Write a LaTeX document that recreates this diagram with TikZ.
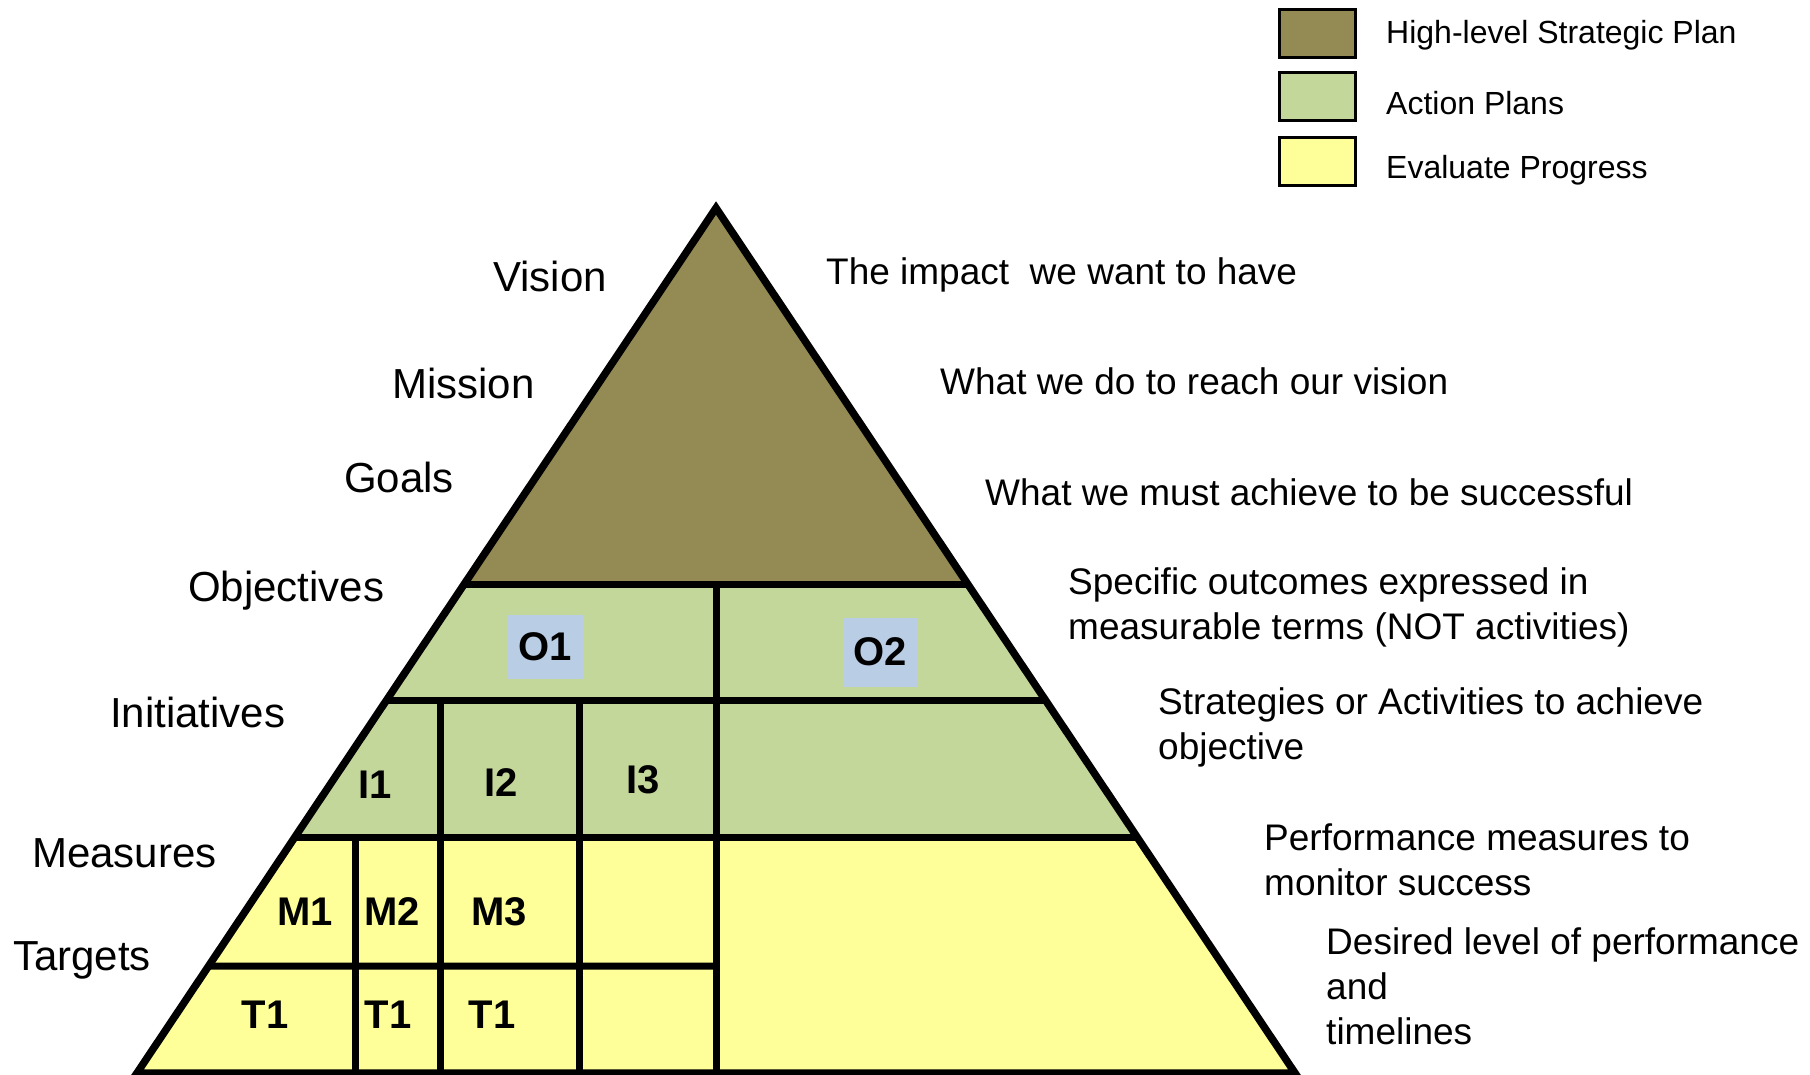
\documentclass[tikz,border=0pt]{standalone}
\usepackage{fontspec}
\setmainfont{Liberation Sans}
\usetikzlibrary{calc}
\definecolor{brownfill}{HTML}{948A54}
\definecolor{greenfill}{HTML}{C4D79B}
\definecolor{yellowfill}{HTML}{FFFF99}
\definecolor{bluefill}{HTML}{B9CDE5}
\begin{document}
\begin{tikzpicture}[x=1pt,y=-1pt,
  edge/.style={line width=7.5pt, line join=miter},
  gridline/.style={line width=7pt},
  lefttext/.style={font=\fontsize{42}{50}\selectfont, anchor=base west, inner sep=0},
  desc/.style={font=\fontsize{37}{45}\selectfont, anchor=base west, inner sep=0, align=left},
  cell/.style={font=\fontsize{40}{48}\selectfont\bfseries, inner sep=0},
  obox/.style={fill=bluefill, minimum width=75pt, inner sep=0, font=\fontsize{40}{48}\selectfont\bfseries},
  legbox/.style={draw, line width=3pt, minimum width=76pt, minimum height=48pt, inner sep=0},
  legtext/.style={font=\fontsize{32}{38}\selectfont, anchor=base west, inner sep=0}]

\useasboundingbox (0,0) rectangle (1810,1075);
\fill[white] (0,0) rectangle (1810,1075);

% pyramid corners
\coordinate (A) at (716,208);
\coordinate (BL) at (137,1073);
\coordinate (BR) at (1295,1073);
\coordinate (L1) at ($(A)!0.4347!(BL)$);
\coordinate (R1) at ($(A)!0.4347!(BR)$);
\coordinate (L2) at ($(A)!0.5688!(BL)$);
\coordinate (R2) at ($(A)!0.5688!(BR)$);
\coordinate (L3) at ($(A)!0.7272!(BL)$);
\coordinate (R3) at ($(A)!0.7272!(BR)$);
\coordinate (L4) at ($(A)!0.8763!(BL)$);
\coordinate (C1) at (716,584);
\coordinate (C4) at (716,966);
\coordinate (CB) at (716,1073);
\coordinate (V1t) at (440,700);
\coordinate (V1b) at (440,1073);
\coordinate (V2t) at (579,700);
\coordinate (V2b) at (579,1073);
\coordinate (V3t) at (355,837);
\coordinate (V3b) at (355,1073);

% fills
\fill[brownfill] (A) -- (R1) -- (L1) -- cycle;
\fill[greenfill] (L1) -- (R1) -- (R3) -- (L3) -- cycle;
\fill[yellowfill] (L3) -- (R3) -- (BR) -- (BL) -- cycle;

% blue boxes
\node[obox, minimum height=64pt] (O1) at (545,647) {O1};
\node[obox, minimum height=69pt] (O2) at (880,652) {O2};

% internal lines
\draw[gridline] (L1) -- (R1);
\draw[gridline] (L2) -- (R2);
\draw[gridline] (L3) -- (R3);
\draw[gridline] (L4) -- (C4);
\draw[gridline] (C1) -- (CB);
\draw[gridline] (V1t) -- (V1b);
\draw[gridline] (V2t) -- (V2b);
\draw[gridline] (V3t) -- (V3b);

% outline
\draw[edge] (A) -- (BR) -- (BL) -- cycle;

% cell labels
\node[cell] (I1) at (375,785) {I1};
\node[cell] (I2) at (501,783) {I2};
\node[cell] (I3) at (643,780) {I3};
\node[cell] (M1) at (305,912) {M1};
\node[cell] (M2) at (392,912) {M2};
\node[cell] (M3) at (499,912) {M3};
\node[cell] (T1a) at (265,1015) {T1};
\node[cell] (T1b) at (388,1015) {T1};
\node[cell] (T1c) at (492,1015) {T1};

% left labels
\node[lefttext] (vision) at (493,292) {Vision};
\node[lefttext] (mission) at (392,398) {Mission};
\node[lefttext] (goals) at (344,492) {Goals};
\node[lefttext] (objectives) at (188,601) {Objectives};
\node[lefttext] (initiatives) at (110,727) {Initiatives};
\node[lefttext] (measures) at (32,867) {Measures};
\node[lefttext] (targets) at (13,970) {Targets};

% right descriptions (base = baseline of last line)
\node[desc] (dvision) at (826,285) {The impact\ \ we want to have};
\node[desc] (dmission) at (940,394) {What we do to reach our vision};
\node[desc] (dgoals) at (985,505) {What we must achieve to be successful};
\node[desc] (dobj) at (1068,639) {Specific outcomes expressed in\\measurable terms (NOT activities)};
\node[desc] (dinit) at (1158,759) {Strategies or Activities to achieve\\objective};
\node[desc] (dmeas) at (1264,895) {Performance measures to\\monitor success};
\node[desc] (dtarg) at (1326,1044) {Desired level of performance\\and\\timelines};

% legend
\node[legbox, fill=brownfill] (lg1) at (1317,33.5) {};
\node[legbox, fill=greenfill] (lg2) at (1317,97) {};
\node[legbox, fill=yellowfill] (lg3) at (1317,162) {};
\node[legtext] (lt1) at (1386,43.5) {High-level Strategic Plan};
\node[legtext] (lt2) at (1386,114.5) {Action Plans};
\node[legtext] (lt3) at (1386,178.5) {Evaluate Progress};
\end{tikzpicture}
\end{document}
